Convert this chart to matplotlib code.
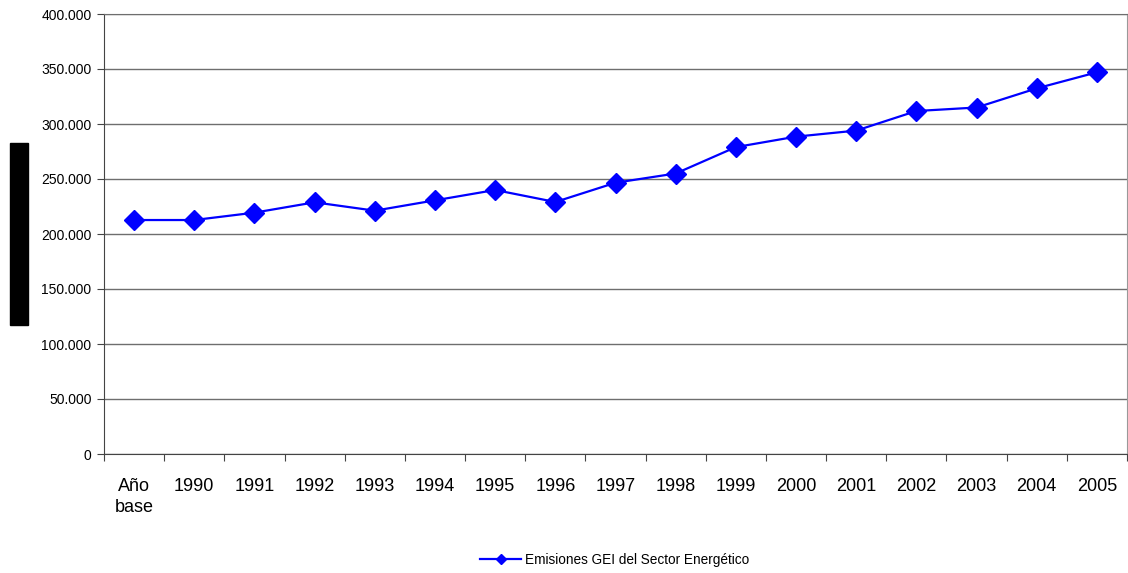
import matplotlib.pyplot as plt
from matplotlib.lines import Line2D
from matplotlib.patches import Rectangle
from matplotlib.ticker import FuncFormatter, MultipleLocator

plt.rcParams['font.family'] = ['Liberation Sans', 'DejaVu Sans']

# Emisiones GEI del sector energetico
categories = ['Año\nbase', '1990', '1991', '1992', '1993', '1994', '1995', '1996',
              '1997', '1998', '1999', '2000', '2001', '2002', '2003', '2004', '2005']
emisiones = [212700, 212700, 219400, 228800, 221200, 230600, 240000, 229100,
             246600, 255000, 279000, 288500, 294000, 311800, 315000, 332400, 347000]
series_name = 'Emisiones GEI del Sector Energético'


def thousands(value, pos):
    return '{:,.0f}'.format(value).replace(',', '.')


def main():
    fig = plt.figure(figsize=(11.28, 5.73), dpi=100)
    ax = fig.add_axes([104 / 1128, 1 - 454 / 573, 1023 / 1128, 440 / 573])

    x = list(range(len(categories)))
    ax.plot(x, emisiones, color='#0000ff', linewidth=1.6, marker='D',
            markersize=10, markerfacecolor='#0000ff', markeredgecolor='#0000ff')

    ax.set_xlim(-0.5, len(categories) - 0.5)
    ax.set_ylim(0, 400000)
    ax.yaxis.set_major_locator(MultipleLocator(50000))
    ax.yaxis.set_major_formatter(FuncFormatter(thousands))
    ax.grid(axis='y', color='#6e6e6e', linewidth=1)
    ax.set_axisbelow(True)

    ax.set_xticks([i - 0.5 for i in range(len(categories) + 1)])
    ax.set_xticklabels([])
    ax.set_xticks(x, minor=True)
    ax.set_xticklabels(categories, minor=True, fontsize=13, va='top',
                       linespacing=1.3)
    ax.tick_params(axis='x', which='minor', length=0, pad=17)
    ax.tick_params(axis='x', which='major', length=5, color='#444444')
    ax.tick_params(axis='y', length=5, labelsize=10, color='#444444', pad=4)
    for lbl in ax.get_xticklabels(minor=True):
        lbl.set_horizontalalignment('center')

    ax.spines['top'].set_color('#6e6e6e')
    ax.spines['right'].set_color('#999999')
    ax.spines['left'].set_color('#444444')
    ax.spines['bottom'].set_color('#444444')

    # redacted block on the left
    fig.patches.append(Rectangle((10 / 1128, 1 - 325 / 573), 18 / 1128, 182 / 573,
                                 transform=fig.transFigure, color='black'))

    handle = Line2D([], [], color='#0000ff', linewidth=1.6, marker='D',
                    markersize=5, markerfacecolor='#0000ff')
    fig.legend([handle], [series_name], loc='center',
               bbox_to_anchor=(615 / 1128, 1 - 560 / 573), frameon=False,
               fontsize=9.8, handlelength=3.0, handletextpad=0.3)

    fig.savefig('out.png', dpi=100)


if __name__ == '__main__':
    main()
